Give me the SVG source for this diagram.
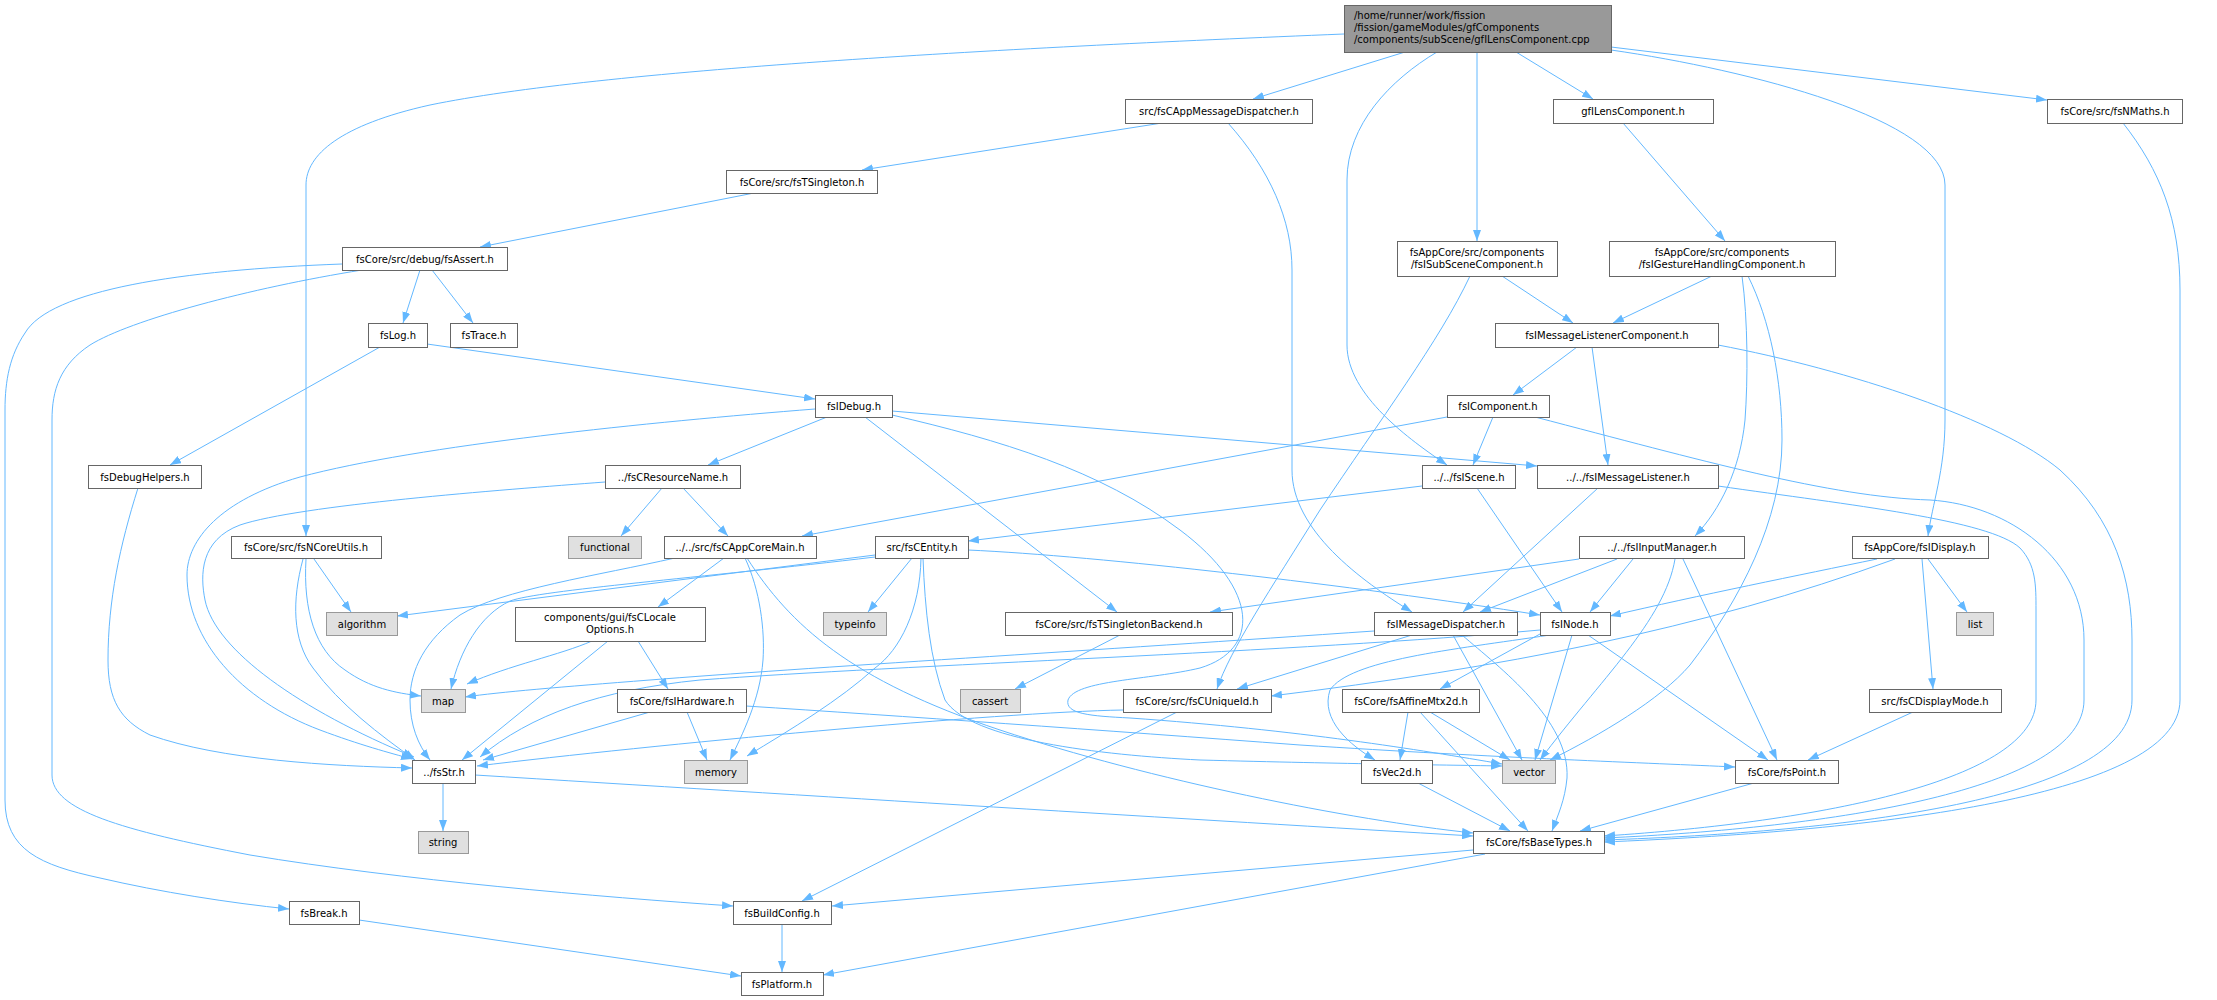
<svg xmlns="http://www.w3.org/2000/svg" width="2217" height="1000" viewBox="0 0 2217 1000">
<defs>
<marker id="ah" markerUnits="userSpaceOnUse" markerWidth="11" markerHeight="8" viewBox="0 0 11 8" refX="11" refY="4" orient="auto">
<path d="M0,0 L11,4 L0,8 z" fill="#63b8ff"/>
</marker>
<style>
.n rect{fill:#ffffff;stroke:#666666;stroke-width:1}
.g rect{fill:#e0e0e0;stroke:#999999;stroke-width:1}
.m rect{fill:#999999;stroke:#666666;stroke-width:1}
text{font-family:"DejaVu Sans","Liberation Sans",sans-serif;font-size:10px;fill:#000000;text-anchor:middle}
.m text{text-anchor:start}
#edges path{fill:none;stroke:#63b8ff;stroke-width:1;marker-end:url(#ah)}
</style>
</defs>
<rect width="2217" height="1000" fill="#ffffff"/>
<g id="edges">
<path d="M1344,34 C1000,48 600,70 430,105 C340,125 306,155 306,185 L306,536"/>
<path d="M1405,52 L1253,99"/>
<path d="M1437,52 C1390,80 1347,125 1347,180 L1347,345 C1347,395 1410,440 1447,465"/>
<path d="M1477,52 L1477,241"/>
<path d="M1516,52 L1593,99"/>
<path d="M1611,50 C1750,70 1945,120 1945,185 L1945,420 C1945,470 1932,505 1928,536"/>
<path d="M1611,47 L2047,100"/>
<path d="M2123,123 C2160,170 2180,220 2180,290 L2180,700 C2180,800 1850,832 1604,842"/>
<path d="M1718,486 C1850,505 1990,520 2020,548 C2036,565 2036,585 2036,610 L2036,700 C2036,780 1820,822 1604,836"/>
<path d="M1535,417 C1700,460 1830,497 1930,500 C2010,505 2084,560 2084,640 L2084,700 C2084,790 1830,828 1604,838"/>
<path d="M1718,345 C1850,370 2000,420 2060,470 C2115,520 2132,580 2132,640 L2132,700 C2132,800 1840,832 1604,840"/>
<path d="M1162,123 L862,170"/>
<path d="M1228,123 C1270,170 1292,220 1292,270 L1292,470 C1292,530 1360,580 1412,612"/>
<path d="M754,193 L480,247"/>
<path d="M420,270 L403,323"/>
<path d="M432,270 L473,323"/>
<path d="M342,264 C180,270 50,290 25,333 C10,355 5,380 5,410 L5,800 C5,850 40,865 100,878 C160,892 230,903 289,909"/>
<path d="M362,270 C250,288 130,320 90,345 C60,365 52,390 52,420 L52,775 C52,810 120,830 250,855 C400,880 600,897 733,906"/>
<path d="M380,347 L170,465"/>
<path d="M427,344 L815,399"/>
<path d="M138,488 C120,545 108,600 108,660 C108,700 120,720 150,735 C220,760 330,766 412,768"/>
<path d="M827,417 L708,465"/>
<path d="M815,409 C650,422 420,445 300,477 C220,500 187,540 187,575 C187,640 240,700 320,730 C360,745 390,753 412,759"/>
<path d="M662,488 L621,536"/>
<path d="M683,488 L728,536"/>
<path d="M605,482 C500,490 300,505 240,525 C200,540 200,575 205,600 C215,650 300,710 414,757"/>
<path d="M724,558 L658,607"/>
<path d="M745,558 C760,590 765,630 763,660 C760,700 742,735 730,760"/>
<path d="M747,558 C790,625 850,680 1000,730 C1150,780 1350,820 1473,833"/>
<path d="M675,558 C600,575 500,590 460,615 C425,640 410,670 410,700 C410,725 418,745 430,760"/>
<path d="M592,641 C560,655 510,665 467,684"/>
<path d="M608,641 L462,760"/>
<path d="M638,641 L668,689"/>
<path d="M687,712 L707,760"/>
<path d="M650,712 L483,760"/>
<path d="M746,706 C900,716 1100,730 1300,745 C1500,758 1650,763 1735,767"/>
<path d="M875,555 L397,616"/>
<path d="M875,557 C700,578 540,590 510,601 C480,615 460,650 451,689"/>
<path d="M912,558 L868,612"/>
<path d="M921,558 C920,610 900,650 875,668 C840,700 790,730 747,756"/>
<path d="M923,558 C925,610 930,660 945,700 C970,740 1100,755 1200,760 C1350,764 1450,765 1502,766"/>
<path d="M968,550 C1100,556 1350,585 1540,615"/>
<path d="M1422,486 L968,541"/>
<path d="M1477,488 L1562,612"/>
<path d="M1493,417 L1473,465"/>
<path d="M1447,417 L802,536"/>
<path d="M1577,347 L1513,395"/>
<path d="M1592,347 L1608,465"/>
<path d="M1502,276 L1573,323"/>
<path d="M1470,276 C1440,340 1380,420 1320,510 C1270,590 1230,650 1217,689"/>
<path d="M1623,123 L1725,241"/>
<path d="M1712,276 L1613,323"/>
<path d="M1742,276 C1748,320 1748,380 1745,420 C1740,470 1720,510 1695,536"/>
<path d="M1748,276 C1770,320 1782,380 1782,440 C1782,520 1740,600 1690,665 C1660,700 1600,735 1550,760"/>
<path d="M1598,488 L1463,612"/>
<path d="M1579,559 L1210,612"/>
<path d="M1617,559 L1480,612"/>
<path d="M1633,559 L1590,612"/>
<path d="M1683,559 L1777,760"/>
<path d="M1675,559 C1665,620 1600,680 1540,760"/>
<path d="M1877,559 C1800,575 1700,595 1610,616"/>
<path d="M1895,559 C1700,630 1500,668 1271,696"/>
<path d="M1540,634 L1440,689"/>
<path d="M1550,635 C1450,650 1350,660 1330,690 C1320,720 1350,745 1375,760"/>
<path d="M1572,635 L1535,760"/>
<path d="M1588,635 L1768,760"/>
<path d="M1540,630 C1300,652 900,665 700,680 C600,690 530,715 480,757"/>
<path d="M1453,635 L1522,760"/>
<path d="M1412,635 L1237,689"/>
<path d="M1462,635 C1500,668 1570,720 1567,778 C1565,800 1558,815 1552,831"/>
<path d="M1374,631 C1100,650 800,668 650,680 C560,687 500,692 465,697"/>
<path d="M1120,635 L1015,689"/>
<path d="M892,415 C1000,440 1100,470 1180,530 C1260,590 1260,650 1200,668 C1150,680 1075,680 1068,700 C1065,714 1090,716 1130,718 C1300,730 1420,750 1502,764"/>
<path d="M1123,710 C1000,712 650,745 477,766"/>
<path d="M1177,712 L802,901"/>
<path d="M1408,712 L1400,760"/>
<path d="M1430,712 L1510,760"/>
<path d="M1420,712 L1528,831"/>
<path d="M1418,783 L1510,831"/>
<path d="M1754,783 L1580,831"/>
<path d="M1913,712 L1808,760"/>
<path d="M1928,559 L1967,612"/>
<path d="M1922,559 L1933,689"/>
<path d="M443,783 L443,831"/>
<path d="M475,775 C800,795 1200,820 1473,836"/>
<path d="M1473,850 L832,906"/>
<path d="M1485,854 L823,975"/>
<path d="M782,924 L782,972"/>
<path d="M359,920 L741,976"/>
<path d="M314,559 L351,612"/>
<path d="M303,559 C292,600 292,640 313,668 C340,705 380,735 415,760"/>
<path d="M306,559 C303,610 315,650 345,670 C370,688 395,693 421,696"/>
<path d="M865,417 L1117,612"/>
<path d="M892,411 L1537,466"/>
</g>
<g id="n_main" class="m"><rect x="1344.5" y="5.5" width="267" height="47"/><text x="1354" y="19">/home/runner/work/fission</text><text x="1354" y="31">/fission/gameModules/gfComponents</text><text x="1354" y="43">/components/subScene/gfILensComponent.cpp</text></g>
<g id="n_coreutils" class="n"><rect x="231.5" y="536.5" width="150" height="22"/><text x="306" y="551">fsCore/src/fsNCoreUtils.h</text></g>
<g id="n_appmsg" class="n"><rect x="1125.5" y="99.5" width="187" height="24"/><text x="1219" y="115">src/fsCAppMessageDispatcher.h</text></g>
<g id="n_scene" class="n"><rect x="1422.5" y="465.5" width="93" height="23"/><text x="1469" y="481">../../fsIScene.h</text></g>
<g id="n_subscene" class="n"><rect x="1397.5" y="241.5" width="160" height="35"/><text x="1477" y="256">fsAppCore/src/components</text><text x="1477" y="268">/fsISubSceneComponent.h</text></g>
<g id="n_lens" class="n"><rect x="1553.5" y="99.5" width="160" height="24"/><text x="1633" y="115">gfILensComponent.h</text></g>
<g id="n_display" class="n"><rect x="1852.5" y="536.5" width="136" height="22"/><text x="1920" y="551">fsAppCore/fsIDisplay.h</text></g>
<g id="n_nmaths" class="n"><rect x="2047.5" y="99.5" width="135" height="24"/><text x="2115" y="115">fsCore/src/fsNMaths.h</text></g>
<g id="n_tsingleton" class="n"><rect x="726.5" y="170.5" width="151" height="23"/><text x="802" y="186">fsCore/src/fsTSingleton.h</text></g>
<g id="n_msgdisp" class="n"><rect x="1374.5" y="612.5" width="143" height="23"/><text x="1446" y="628">fsIMessageDispatcher.h</text></g>
<g id="n_assert" class="n"><rect x="342.5" y="247.5" width="165" height="23"/><text x="425" y="263">fsCore/src/debug/fsAssert.h</text></g>
<g id="n_log" class="n"><rect x="368.5" y="323.5" width="59" height="24"/><text x="398" y="339">fsLog.h</text></g>
<g id="n_trace" class="n"><rect x="450.5" y="323.5" width="67" height="24"/><text x="484" y="339">fsTrace.h</text></g>
<g id="n_break" class="n"><rect x="289.5" y="901.5" width="70" height="23"/><text x="324" y="917">fsBreak.h</text></g>
<g id="n_buildcfg" class="n"><rect x="733.5" y="901.5" width="98" height="23"/><text x="782" y="917">fsBuildConfig.h</text></g>
<g id="n_dbghelp" class="n"><rect x="88.5" y="465.5" width="113" height="23"/><text x="145" y="481">fsDebugHelpers.h</text></g>
<g id="n_idebug" class="n"><rect x="815.5" y="395.5" width="77" height="22"/><text x="854" y="410">fsIDebug.h</text></g>
<g id="n_str" class="n"><rect x="412.5" y="760.5" width="63" height="23"/><text x="444" y="776">../fsStr.h</text></g>
<g id="n_resname" class="n"><rect x="605.5" y="465.5" width="135" height="23"/><text x="673" y="481">../fsCResourceName.h</text></g>
<g id="n_tsbackend" class="n"><rect x="1005.5" y="612.5" width="227" height="23"/><text x="1119" y="628">fsCore/src/fsTSingletonBackend.h</text></g>
<g id="n_msglistener" class="n"><rect x="1537.5" y="465.5" width="181" height="23"/><text x="1628" y="481">../../fsIMessageListener.h</text></g>
<g id="n_vector" class="g"><rect x="1502.5" y="760.5" width="53" height="23"/><text x="1529" y="776">vector</text></g>
<g id="n_functional" class="g"><rect x="568.5" y="536.5" width="73" height="22"/><text x="605" y="551">functional</text></g>
<g id="n_coremain" class="n"><rect x="664.5" y="536.5" width="152" height="22"/><text x="740" y="551">../../src/fsCAppCoreMain.h</text></g>
<g id="n_locale" class="n"><rect x="515.5" y="607.5" width="190" height="34"/><text x="610" y="621">components/gui/fsCLocale</text><text x="610" y="633">Options.h</text></g>
<g id="n_memory" class="g"><rect x="684.5" y="760.5" width="63" height="23"/><text x="716" y="776">memory</text></g>
<g id="n_basetypes" class="n"><rect x="1473.5" y="831.5" width="131" height="22"/><text x="1539" y="846">fsCore/fsBaseTypes.h</text></g>
<g id="n_hardware" class="n"><rect x="617.5" y="689.5" width="129" height="23"/><text x="682" y="705">fsCore/fsIHardware.h</text></g>
<g id="n_map" class="g"><rect x="421.5" y="689.5" width="44" height="23"/><text x="443" y="705">map</text></g>
<g id="n_algorithm" class="g"><rect x="326.5" y="612.5" width="71" height="23"/><text x="362" y="628">algorithm</text></g>
<g id="n_string" class="g"><rect x="418.5" y="831.5" width="50" height="22"/><text x="443" y="846">string</text></g>
<g id="n_entity" class="n"><rect x="875.5" y="536.5" width="93" height="22"/><text x="922" y="551">src/fsCEntity.h</text></g>
<g id="n_typeinfo" class="g"><rect x="823.5" y="612.5" width="63" height="23"/><text x="855" y="628">typeinfo</text></g>
<g id="n_node" class="n"><rect x="1540.5" y="612.5" width="70" height="23"/><text x="1575" y="628">fsINode.h</text></g>
<g id="n_uniqueid" class="n"><rect x="1123.5" y="689.5" width="148" height="23"/><text x="1197" y="705">fsCore/src/fsCUniqueId.h</text></g>
<g id="n_platform" class="n"><rect x="741.5" y="972.5" width="82" height="23"/><text x="782" y="988">fsPlatform.h</text></g>
<g id="n_cassert" class="g"><rect x="960.5" y="689.5" width="60" height="23"/><text x="990" y="705">cassert</text></g>
<g id="n_affine" class="n"><rect x="1342.5" y="689.5" width="137" height="23"/><text x="1411" y="705">fsCore/fsAffineMtx2d.h</text></g>
<g id="n_vec2d" class="n"><rect x="1361.5" y="760.5" width="71" height="23"/><text x="1397" y="776">fsVec2d.h</text></g>
<g id="n_point" class="n"><rect x="1735.5" y="760.5" width="103" height="23"/><text x="1787" y="776">fsCore/fsPoint.h</text></g>
<g id="n_mlc" class="n"><rect x="1495.5" y="323.5" width="223" height="24"/><text x="1607" y="339">fsIMessageListenerComponent.h</text></g>
<g id="n_icomp" class="n"><rect x="1447.5" y="395.5" width="102" height="22"/><text x="1498" y="410">fsIComponent.h</text></g>
<g id="n_input" class="n"><rect x="1579.5" y="536.5" width="165" height="22"/><text x="1662" y="551">../../fsIInputManager.h</text></g>
<g id="n_gesture" class="n"><rect x="1609.5" y="241.5" width="226" height="35"/><text x="1722" y="256">fsAppCore/src/components</text><text x="1722" y="268">/fsIGestureHandlingComponent.h</text></g>
<g id="n_list" class="g"><rect x="1956.5" y="612.5" width="37" height="23"/><text x="1975" y="628">list</text></g>
<g id="n_dispmode" class="n"><rect x="1869.5" y="689.5" width="132" height="23"/><text x="1935" y="705">src/fsCDisplayMode.h</text></g>
</svg>
